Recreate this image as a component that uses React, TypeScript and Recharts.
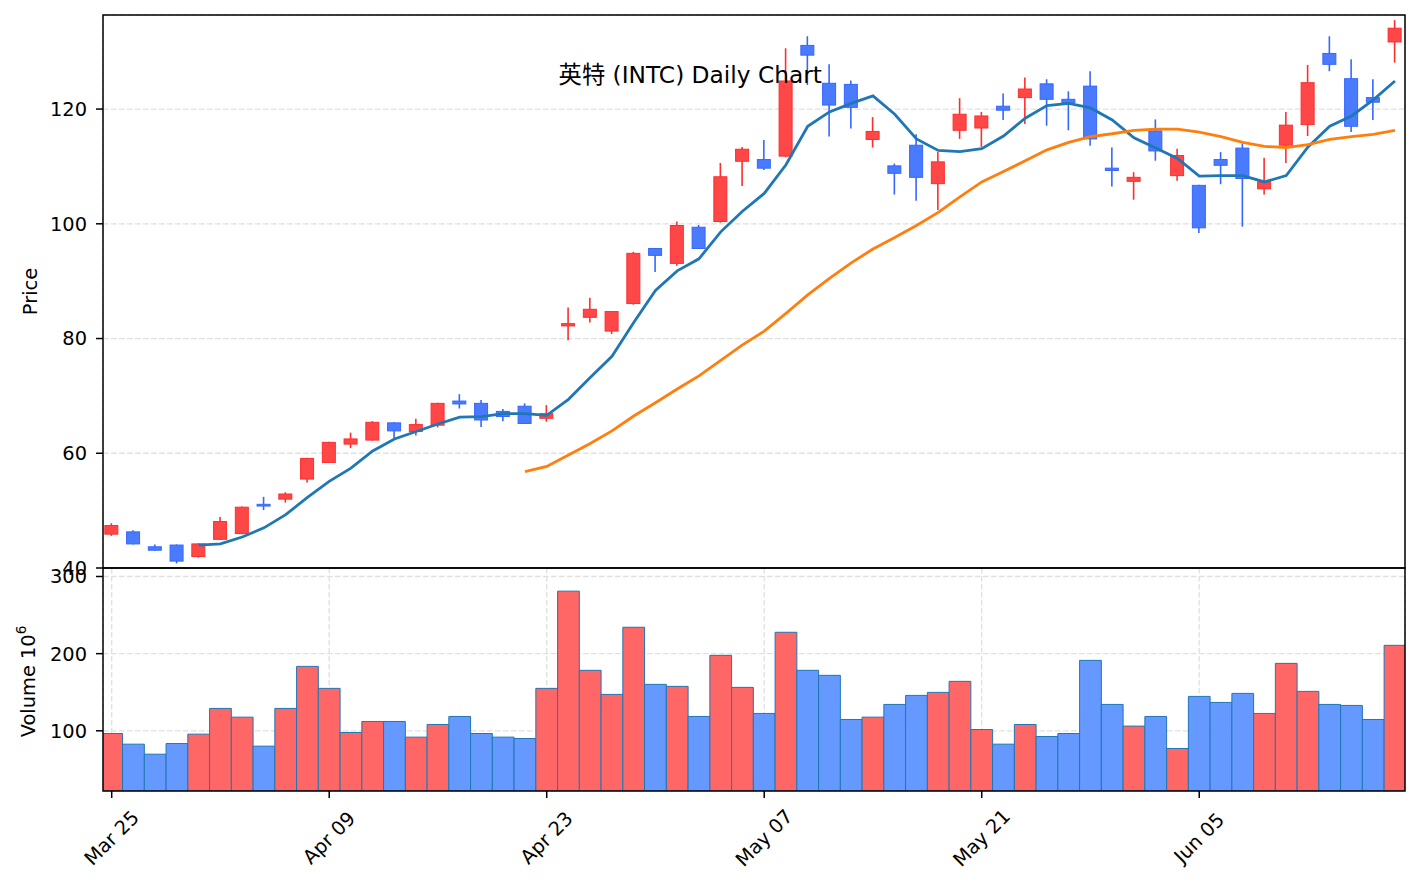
import React from 'react';
import { ComposedChart, Bar, Line, XAxis, YAxis, CartesianGrid, Cell } from 'recharts';

const tickIndex = [0, 10, 20, 30, 40, 50];
const tickLabels = ['Mar 25', 'Apr 09', 'Apr 23', 'May 07', 'May 21', 'Jun 05'];
const priceTicks = [40, 60, 80, 100, 120];
const volumeTicks = [100, 200, 300];

const opens = [45.9, 46.3, 43.7, 44.0, 42.0, 45.0, 46.0, 51.1, 52.0, 55.5,
  58.4, 61.6, 62.3, 65.3, 63.8, 64.9, 69.1, 68.7, 67.3, 68.2,
  66.1, 82.2, 83.7, 81.3, 86.1, 95.7, 93.1, 99.4, 100.4, 110.9,
  111.2, 111.8, 131.1, 124.5, 124.3, 114.7, 110.1, 113.7, 107.0, 116.3,
  116.7, 120.5, 122.0, 124.4, 121.7, 124.0, 109.7, 107.4, 116.2, 108.4,
  106.7, 111.2, 113.2, 106.1, 113.7, 117.3, 129.7, 125.3, 122.0, 131.7];
const highs = [47.8, 46.6, 44.1, 44.1, 44.3, 48.9, 50.7, 52.4, 53.2, 59.2,
  62.0, 63.6, 65.6, 65.4, 66.0, 68.8, 70.3, 69.3, 67.7, 68.7,
  68.4, 85.4, 87.1, 84.8, 95.1, 95.8, 100.4, 99.8, 110.6, 113.4,
  114.6, 130.6, 132.7, 127.8, 125.0, 118.6, 110.5, 115.6, 112.5, 121.9,
  119.5, 122.7, 125.5, 125.2, 123.1, 126.6, 113.3, 109.0, 118.2, 113.1,
  106.8, 112.5, 114.0, 111.5, 119.5, 127.7, 132.7, 128.7, 125.2, 135.5];
const lows = [45.6, 44.1, 43.0, 40.8, 41.8, 44.9, 45.9, 50.1, 51.4, 54.9,
  58.3, 60.9, 62.2, 62.6, 63.1, 64.5, 67.8, 64.6, 65.6, 65.1,
  65.5, 79.7, 82.8, 80.8, 85.9, 91.6, 92.7, 95.6, 100.2, 106.6,
  109.4, 111.6, 124.2, 115.2, 116.6, 113.3, 105.1, 104.0, 102.4, 114.8,
  113.4, 118.1, 117.4, 117.1, 116.3, 113.6, 106.5, 104.2, 111.0, 107.5,
  98.4, 106.9, 99.5, 105.1, 110.6, 115.3, 126.6, 116.0, 118.1, 128.1];
const closes = [47.4, 44.2, 43.1, 41.2, 44.2, 48.1, 50.6, 50.8, 52.9, 59.1,
  61.9, 62.5, 65.4, 63.9, 65.0, 68.7, 68.6, 65.8, 66.4, 65.2,
  66.9, 82.6, 85.1, 84.7, 94.85, 94.5, 99.7, 95.7, 108.2, 113.0,
  109.7, 124.9, 129.4, 120.7, 120.3, 116.1, 108.8, 108.1, 110.8, 119.1,
  118.8, 119.8, 123.5, 121.7, 121.1, 114.8, 109.3, 108.1, 112.7, 111.9,
  99.3, 110.2, 107.9, 107.3, 117.2, 124.6, 127.8, 117.0, 121.2, 134.1];
const volumes = [96.5, 82.7, 69.7, 83.5, 95.7, 129, 117.7, 80.1, 129, 183.5,
  155, 97.8, 112.1, 112.1, 91.8, 108.2, 118.6, 96.5, 91.8, 90,
  155, 281, 178.4, 147.2, 234.2, 160.2, 157.6, 118.6, 197.8, 156.3,
  122.5, 227.7, 178.4, 171.9, 114.7, 117.7, 134.2, 145.9, 149.8, 164.1,
  101.7, 82.7, 108.2, 92.6, 96.5, 191.3, 134.2, 106.1, 118.6, 77.1,
  144.6, 136.8, 148.5, 122.5, 187.4, 151.1, 134.2, 132.9, 114.7, 210.8];
const ma5 = [null, null, null, null, 44.0, 44.2, 45.4, 47.0, 49.3, 52.3,
  55.1, 57.4, 60.4, 62.5, 63.8, 65.1, 66.3, 66.4, 66.9, 66.9,
  66.6, 69.4, 73.2, 76.9, 82.8, 88.4, 91.8, 93.9, 98.6, 102.2,
  105.3, 110.3, 117.0, 119.5, 121.0, 122.3, 119.1, 114.8, 112.8, 112.6,
  113.1, 115.3, 118.4, 120.6, 121.0, 120.2, 118.1, 115.0, 113.2, 111.4,
  108.3, 108.4, 108.4, 107.3, 108.4, 113.4, 117.0, 118.8, 121.6, 124.9];
const ma20 = [null, null, null, null, null, null, null, null, null, null,
  null, null, null, null, null, null, null, null, null, 56.8,
  57.7, 59.7, 61.7, 63.9, 66.5, 68.8, 71.2, 73.5, 76.2, 78.9,
  81.3, 84.4, 87.6, 90.5, 93.2, 95.6, 97.6, 99.7, 102.0, 104.7,
  107.3, 109.1, 111.0, 112.9, 114.2, 115.2, 115.7, 116.3, 116.5, 116.5,
  116.0, 115.2, 114.2, 113.5, 113.3, 113.8, 114.7, 115.2, 115.6, 116.3];

const rows = opens.map((o, i) => ({
  i,
  open: o,
  high: highs[i],
  low: lows[i],
  close: closes[i],
  volume: volumes[i],
  ma5: ma5[i],
  ma20: ma20[i],
}));

const UP = '#ff4747';
const UP_EDGE = '#ff2e2e';
const DOWN = '#4a7bff';
const DOWN_EDGE = '#3567ff';
const VOL_UP = '#ff6666';
const VOL_DOWN = '#6699ff';
const FONT = '"DejaVu Sans", "Noto Sans CJK SC", sans-serif';
const FS = 19.4;

const CandleShape = (props: any) => {
  const { x, y, width, height, payload } = props;
  if (x == null || y == null || !payload) return null;
  const { open, close, high, low } = payload;
  const top = Math.min(y, y + height);
  const h = Math.abs(height);
  const span = high - low || 1;
  const toY = (v: number) => top + ((high - v) / span) * h;
  const up = close >= open;
  const fill = up ? UP : DOWN;
  const edge = up ? UP_EDGE : DOWN_EDGE;
  const cx = x + width / 2;
  const bTop = toY(Math.max(open, close));
  const bBot = toY(Math.min(open, close));
  return (
    <g>
      <line x1={cx} x2={cx} y1={top} y2={top + h} stroke={edge} strokeWidth={1.6} />
      <rect x={x} y={bTop} width={width} height={Math.max(bBot - bTop, 1)} fill={fill} stroke={edge} strokeWidth={1} />
    </g>
  );
};

const DateTick = (props: any) => {
  const { x, y, payload } = props;
  const k = tickIndex.indexOf(payload.value);
  const label = k >= 0 ? tickLabels[k] : '';
  return (
    <text
      transform={`translate(${x},${y + 38}) rotate(-45)`}
      textAnchor="middle"
      dominantBaseline="central"
      fontSize={FS}
      fontFamily={FONT}
      fill="#000"
    >
      {label}
    </text>
  );
};

const xDomain: [number, number] = [-0.4, 59.46];

export default function App() {
  return (
    <div style={{ position: 'absolute', left: 0, top: 0, width: 1419, height: 889, background: '#fff', fontFamily: FONT }}>
      <div style={{ position: 'absolute', left: 0, top: 0 }}>
        <ComposedChart width={1419} height={889} data={rows} margin={{ top: 568, right: 14, bottom: 0, left: 0 }}>
          <CartesianGrid stroke="#e0e0e0" strokeDasharray="5.5 2.5" strokeWidth={1.3} />
          <XAxis dataKey="i" type="number" domain={xDomain} ticks={tickIndex} allowDataOverflow
            height={98} tickSize={7} axisLine={false}
            tickLine={{ stroke: '#000', strokeWidth: 1.5 }}
            tick={<DateTick />} interval={0} />
          <YAxis type="number" domain={[22, 311]} ticks={volumeTicks} allowDataOverflow width={103}
            tickSize={7} tickMargin={9} axisLine={false} interval={0}
            tickLine={{ stroke: '#000', strokeWidth: 1.5 }}
            tick={{ fill: '#000', fontSize: FS, fontFamily: FONT }} />
          <Bar dataKey="volume" barSize={21.75} stroke="#1f77b4" strokeWidth={1} isAnimationActive={false}>
            {rows.map((r, idx) => (
              <Cell key={idx} fill={r.close >= r.open ? VOL_UP : VOL_DOWN} />
            ))}
          </Bar>
        </ComposedChart>
      </div>
      <div style={{ position: 'absolute', left: 0, top: 0 }}>
        <ComposedChart width={1419} height={600} data={rows} margin={{ top: 15, right: 14, bottom: 32, left: 0 }}>
          <CartesianGrid stroke="#e0e0e0" strokeDasharray="5.5 2.5" strokeWidth={1.3} />
          <XAxis dataKey="i" type="number" domain={xDomain} ticks={tickIndex} allowDataOverflow
            tick={false} tickLine={false} axisLine={false} height={0} />
          <YAxis type="number" domain={[40, 136.4]} ticks={priceTicks} allowDataOverflow width={103}
            tickSize={7} tickMargin={9} axisLine={false} interval={0}
            tickLine={{ stroke: '#000', strokeWidth: 1.5 }}
            tick={{ fill: '#000', fontSize: FS, fontFamily: FONT }} />
          <Bar dataKey={(d: any) => [d.low, d.high]} barSize={13} isAnimationActive={false}
            shape={(p: any) => <CandleShape {...p} />} />
          <Line dataKey="ma5" type="linear" stroke="#1f77b4" strokeWidth={2.8} dot={false} isAnimationActive={false} connectNulls={false} />
          <Line dataKey="ma20" type="linear" stroke="#ff7f0e" strokeWidth={2.8} dot={false} isAnimationActive={false} connectNulls={false} />
        </ComposedChart>
      </div>
      <svg width={1419} height={889} style={{ position: 'absolute', left: 0, top: 0, pointerEvents: 'none' }}>
        <rect x={103} y={15} width={1302} height={553} fill="none" stroke="#000" strokeWidth={1.5} />
        <rect x={103} y={568} width={1302} height={223} fill="none" stroke="#000" strokeWidth={1.5} />
        <text x={822} y={83} textAnchor="end" fontSize={23.3} fontFamily={FONT} fill="#000">英特 (INTC) Daily Chart</text>
        <text transform="translate(37,291.5) rotate(-90)" textAnchor="middle" fontSize={FS} fontFamily={FONT} fill="#000">Price</text>
        <text transform="translate(35,681.5) rotate(-90)" textAnchor="middle" fontSize={FS} fontFamily={FONT} fill="#000">
          Volume  10<tspan dy={-9.5} fontSize={13.6}>6</tspan>
        </text>
      </svg>
    </div>
  );
}
